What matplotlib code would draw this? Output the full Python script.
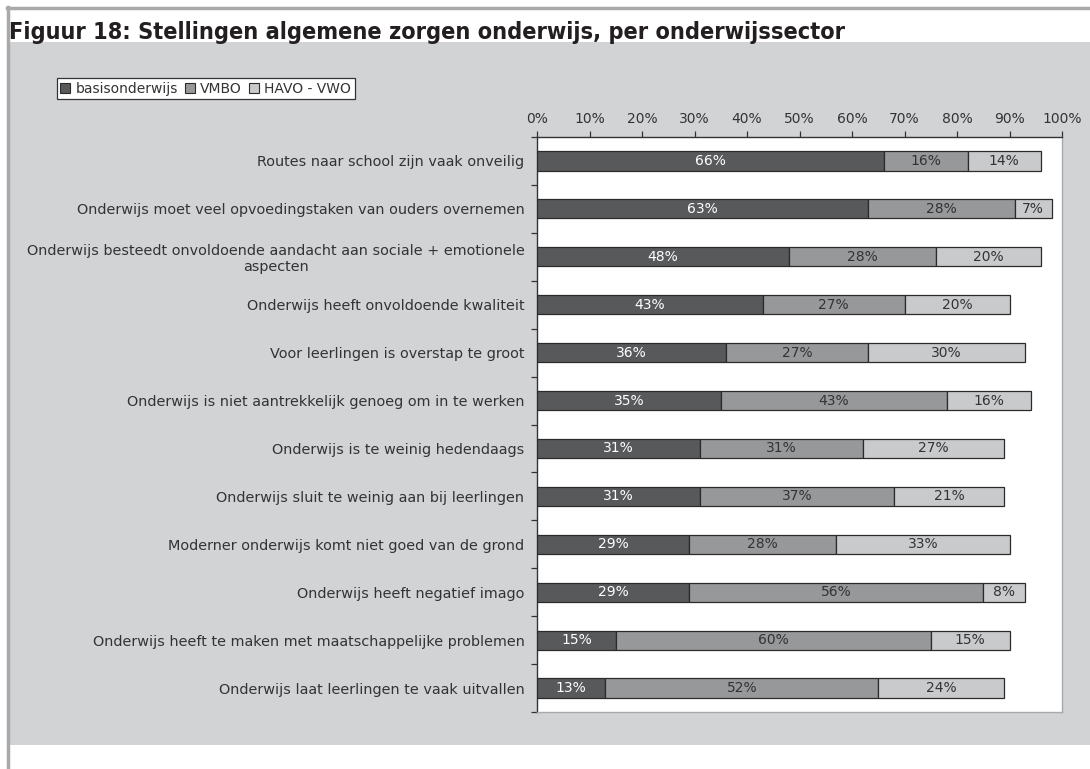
import matplotlib
matplotlib.use("Agg")
import numpy as np
from matplotlib import pyplot as plt
from matplotlib.patches import Rectangle, Patch
from matplotlib.lines import Line2D


TITLE = "Figuur 18: Stellingen algemene zorgen onderwijs, per onderwijssector"

STATEMENTS = [
	"Routes naar school zijn vaak onveilig",
	"Onderwijs moet veel opvoedingstaken van ouders overnemen",
	"Onderwijs besteedt onvoldoende aandacht aan sociale + emotionele\naspecten",
	"Onderwijs heeft onvoldoende kwaliteit",
	"Voor leerlingen is overstap te groot",
	"Onderwijs is niet aantrekkelijk genoeg om in te werken",
	"Onderwijs is te weinig hedendaags",
	"Onderwijs sluit te weinig aan bij leerlingen",
	"Moderner onderwijs komt niet goed van de grond",
	"Onderwijs heeft negatief imago",
	"Onderwijs heeft te maken met maatschappelijke problemen",
	"Onderwijs laat leerlingen te vaak uitvallen",
]

SECTORS = ["basisonderwijs", "VMBO", "HAVO - VWO"]
BASIS = [66, 63, 48, 43, 36, 35, 31, 31, 29, 29, 15, 13]
VMBO = [16, 28, 28, 27, 27, 43, 31, 37, 28, 56, 60, 52]
HAVO_VWO = [14, 7, 20, 20, 30, 16, 27, 21, 33, 8, 15, 24]

COLORS = ["#58595b", "#97989a", "#c9cacc"]
TEXT_COLORS = ["white", "#333333", "#333333"]
PANEL = "#d2d3d5"

W, H = 1090, 769


def fx(px):
	return px / W


def fy(py):
	return 1 - py / H


def main():
	fig = plt.figure(figsize=(W / 100, H / 100), dpi=100)
	fig.patch.set_facecolor("white")

	# grey panel and outer border
	fig.patches.append(Rectangle((fx(10), fy(745)), 1 - fx(10), fy(42) - fy(745),
		transform=fig.transFigure, facecolor=PANEL, edgecolor="none", zorder=-5))
	fig.add_artist(Line2D([fx(7), 1], [fy(8), fy(8)], transform=fig.transFigure,
		color="#a8a9ab", lw=2.5))
	fig.add_artist(Line2D([fx(8), fx(8)], [fy(7), 0], transform=fig.transFigure,
		color="#a8a9ab", lw=2.5))

	fig.text(fx(9), fy(39), TITLE, ha="left", va="baseline", fontsize=16.8,
		fontweight="bold", fontstretch="condensed", family="DejaVu Sans",
		color="#231f20")

	ax = fig.add_axes([fx(537), fy(712), fx(1062) - fx(537), fy(137) - fy(712)])
	ax.set_zorder(2)
	ax.set_facecolor("white")

	n = len(STATEMENTS)
	y = np.arange(n)
	series = [BASIS, VMBO, HAVO_VWO]
	left = np.zeros(n)
	for vals, col, tcol, name in zip(series, COLORS, TEXT_COLORS, SECTORS):
		vals = np.array(vals, dtype=float)
		ax.barh(y, vals, left=left, height=0.4, color=col, edgecolor="#2b2b2b",
			linewidth=0.9, label=name, zorder=3)
		for yi, v, l in zip(y, vals, left):
			ax.text(l + v / 2, yi, f"{int(v)}%", ha="center", va="center",
				fontsize=10, color=tcol, zorder=4)
		left += vals

	ax.set_xlim(0, 100)
	ax.set_ylim(n - 0.5, -0.5)
	ax.xaxis.tick_top()
	ax.set_xticks(np.arange(0, 101, 10))
	ax.set_xticklabels([f"{t}%" for t in range(0, 101, 10)], fontsize=10, color="#333333")
	ax.tick_params(axis="x", direction="out", length=4, width=0.9, pad=4, colors="#333333")

	ax.set_yticks(y)
	ax.set_yticklabels(STATEMENTS, fontsize=10.4, color="#333333", multialignment="center")
	ax.set_yticks(np.arange(-0.5, n, 1), minor=True)
	ax.tick_params(axis="y", which="major", length=0, pad=9)
	ax.tick_params(axis="y", which="minor", direction="out", length=4, width=0.9,
		color="#333333")

	ax.spines["left"].set_color("#333333")
	ax.spines["top"].set_color("#333333")
	ax.spines["right"].set_color("#a8a9ab")
	ax.spines["bottom"].set_color("#a8a9ab")
	for s in ax.spines.values():
		s.set_linewidth(1.0)

	handles = [Patch(facecolor=c, edgecolor="#2b2b2b", linewidth=0.8) for c in COLORS]
	leg = fig.legend(handles, SECTORS, loc="lower left",
		bbox_to_anchor=(fx(57), fy(99)), ncol=3, fontsize=10, frameon=True,
		fancybox=False, edgecolor="#333333", facecolor="white", framealpha=1,
		handlelength=0.7, handleheight=0.7, handletextpad=0.4, columnspacing=0.5,
		borderpad=0.25, borderaxespad=0)
	leg.get_frame().set_linewidth(0.9)
	for t in leg.get_texts():
		t.set_color("#333333")

	fig.savefig("out.png", dpi=100, facecolor=fig.get_facecolor())
	plt.close(fig)


if __name__ == "__main__":
	main()
